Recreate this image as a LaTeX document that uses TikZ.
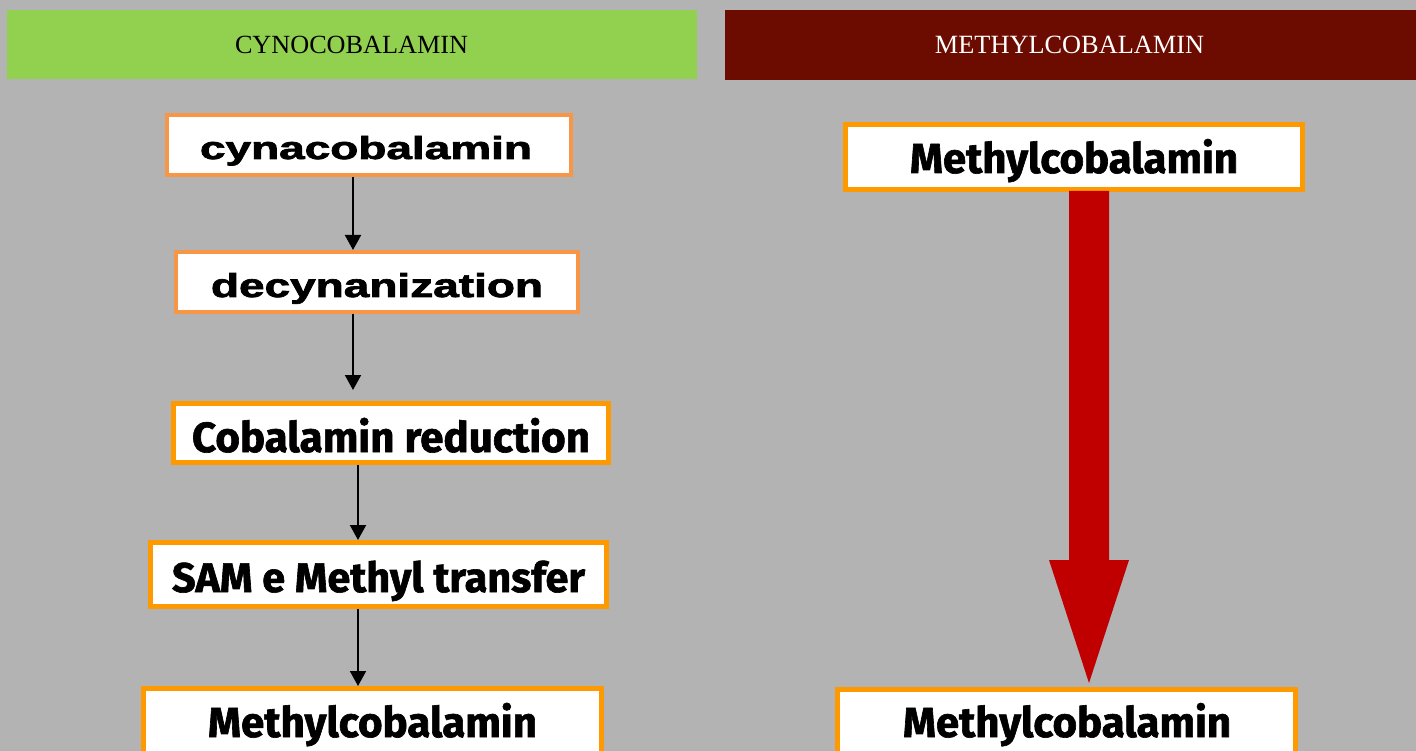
\documentclass[tikz,border=0pt]{standalone}
\usepackage{fontspec}
\setmainfont{Liberation Serif}
\newfontfamily\arialf{Liberation Sans}[BoldFeatures={FakeBold=2}]
\newfontfamily\roundf{Fira Sans}[BoldFeatures={FakeBold=1.5}]
\usetikzlibrary{arrows.meta}
\definecolor{bggray}{RGB}{179,179,179}
\definecolor{hgreen}{RGB}{146,208,80}
\definecolor{hred}{RGB}{108,11,0}
\definecolor{lorange}{RGB}{247,150,70}
\definecolor{borange}{RGB}{255,153,0}
\definecolor{bigred}{RGB}{192,0,0}
\begin{document}
\begin{tikzpicture}[x=1pt,y=-1pt,
  hdr/.style={inner sep=0pt, draw=none},
  txt/.style={inner sep=0pt, anchor=base},
  boxa/.style={draw=lorange, line width=4pt, fill=white, inner sep=0pt},
  boxb/.style={draw=borange, line width=5pt, fill=white, inner sep=0pt},
  conn/.style={draw=black, line width=2pt, -{Triangle[width=16pt,length=15pt]}}
]
\useasboundingbox (0,0) rectangle (1416,751);
\clip (0,0) rectangle (1416,751);
\fill[bggray] (0,0) rectangle (1416,751);

% headers
\node[hdr, fill=hgreen, minimum width=690pt, minimum height=69pt] (hl) at (352,44.5) {};
\node[hdr, fill=hred, minimum width=691pt, minimum height=70pt] (hr) at (1070.5,45) {};
\node[txt] (hlt) at (351.5,54) {\resizebox{233pt}{!}{CYNOCOBALAMIN}};
\node[txt, text=white] (hrt) at (1069.5,54) {\resizebox{269pt}{!}{METHYLCOBALAMIN}};

% left column boxes
\node[boxa, minimum width=404pt, minimum height=60pt] (b1) at (369,145) {};
\node[txt] (b1t) at (366,159) {\resizebox{332pt}{23pt}{\arialf\bfseries cynacobalamin}};
\node[boxa, minimum width=402pt, minimum height=60pt] (b2) at (377,282) {};
\node[txt] (b2t) at (377,297) {\resizebox{332pt}{24pt}{\arialf\bfseries decynanization}};
\node[boxb, minimum width=435pt, minimum height=59pt] (b3) at (391,433) {};
\node[txt] (b3t) at (391,452) {\resizebox{398pt}{!}{\roundf\bfseries Cobalamin reduction}};
\node[boxb, minimum width=456pt, minimum height=64pt] (b4) at (378.5,574.5) {};
\node[txt] (b4t) at (378.5,592) {\resizebox{413pt}{!}{\roundf\bfseries SAM e Methyl transfer}};
\node[boxb, minimum width=458pt, minimum height=81pt] (b5) at (372.5,729) {};
\node[txt] (b5t) at (372.5,737) {\resizebox{329pt}{!}{\roundf\bfseries Methylcobalamin}};

% right column boxes
\node[boxb, minimum width=457pt, minimum height=65pt] (r1) at (1074,157) {};
\node[txt] (r1t) at (1074,173) {\resizebox{328pt}{!}{\roundf\bfseries Methylcobalamin}};
\node[boxb, minimum width=458pt, minimum height=80.5pt] (r2) at (1066.5,729.75) {};
\node[txt] (r2t) at (1067,737) {\resizebox{328pt}{!}{\roundf\bfseries Methylcobalamin}};

% left connectors
\coordinate (xa) at (353,0);
\coordinate (xb) at (358,0);
\draw[conn] (b1.south -| xa) -- (b2.north -| xa);
\draw[conn, shorten >=11pt] (b2.south -| xa) -- (b3.north -| xa);
\draw[conn] (b3.south -| xb) -- (b4.north -| xb);
\draw[conn] (b4.south -| xb) -- (b5.north -| xb);

% big red block arrow
\coordinate (rtip) at (1089,683);
\fill[bigred] (1069,191) -- (1109,191) -- (1109,560) -- (1129,560) -- (rtip) -- (1049,560) -- (1069,560) -- cycle;
\end{tikzpicture}
\end{document}
